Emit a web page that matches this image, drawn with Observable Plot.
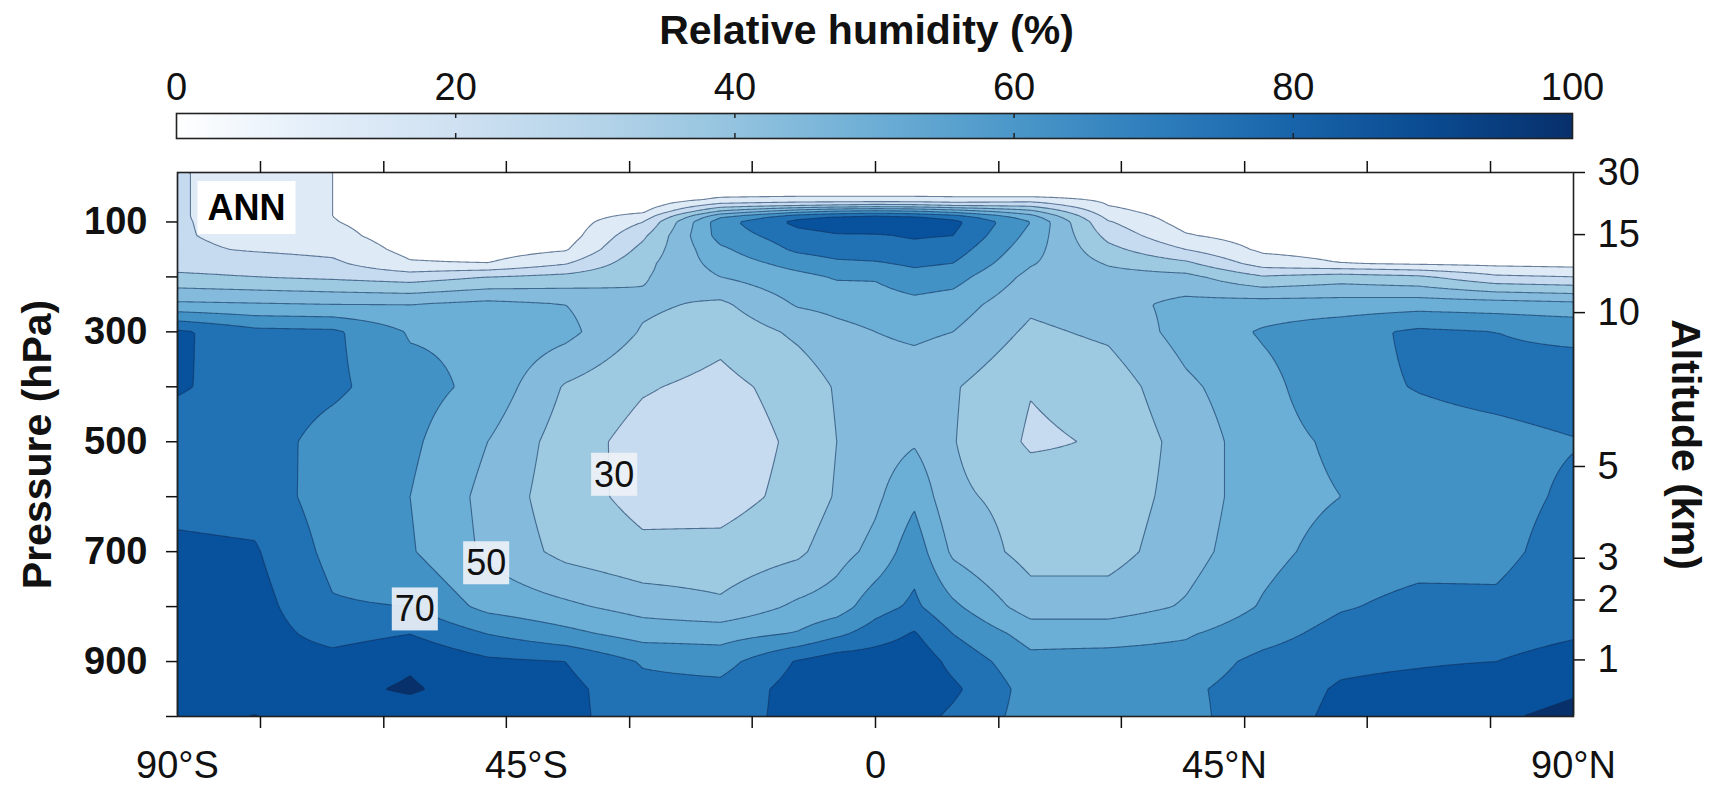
<!DOCTYPE html>
<html><head><meta charset="utf-8">
<script src="https://cdn.jsdelivr.net/npm/d3@7"></script>
<script src="https://cdn.jsdelivr.net/npm/@observablehq/plot@0.6"></script>
<style>html,body{margin:0;padding:0;background:#fff;} svg{display:block;}</style>
</head><body><div id="chart"></div>
<script>
// ---------- data ----------
const lats = [-90,-80,-70,-60,-50,-40,-30,-20,-10,-5,0,5,10,20,30,40,50,60,70,80,90];
const pLevels = [10,50,60,70,80,90,100,125,150,175,200,250,300,400,500,600,700,800,850,900,950,1000];
const rh10   = [21,15,10,5,4,4,4,3,3,3,3,3,3,3,3,2,2,2,2,2,2];
const rh50   = [21,15,10,5,4,4,4,8,8,8,8,8,8,6,5,2,2,2,2,2,2];
const rh60   = [21,15,10,5,4,4,4,12,14,14,14,14,13,16,8,2,2,2,2,2,2];
const rh70   = [21,15,10,5,4,4,5,25,30,32,34,33,30,28,10,3,2,2,2,2,2];
const rh80   = [21,15,10,5,4,4,8,40,55,60,62,60,55,42,13,4,3,2,2,2,2];
const rh90   = [21,15,10,5,4,4,14,58,76,80,82,80,75,54,17,5,3,3,2,2,2];
const rh100  = [21,16,10.5,5,4,4,20,66,83,86,88,87,83,60,21,6,4,3,2,2,2];
const rh125  = [21,17,13,5,4,5,28,64,76,79,79,81,80,57,27,11,5,4,3,2,2];
const rh150  = [22,19,17,7,5,9,33,58,72,75,76,77,75,54,33,20,8,6,5,4,3];
const rh175  = [26,25,22,11,10,19,37,54,64,68,69,72,70,51,39,32,15,10,8,7,6];
const rh200  = [32,30,28,25,30,33,39,50,57,61,61,66,64,47,44,43,31,35,32,22,20];
const rh250  = [52,51,50,50,53,50,42,38,51,53,55,57,55,42,46,53,55,55,56,55,53];
const rh300  = [82,73,72,59,58,53,39,33,42,47,50,52,50,38,42,54,61,66,72,70,68];
const rh400  = [81,76,72,64,57,39,31,27,34,41,44,44,41,30.5,34,48,57,67,70.5,73,75];
const rh500  = [75,75,66,62,50,35,26,24,32,40,45,49,40.5,28.5,31,44,56,62,66,67,69.5];
const rh600  = [77,76,65,60,47,34,27,26,33,41,48,58,42,36,34,44,56,60,65,66,72];
const rh700  = [82,81,67,61,48,37,32,33,38,46,53,66,48,36,36,46,57,64,66,67,75];
const rh800  = [84,84,71,70,57,52,46,42,52,55,66,72,62,45,45,51,61,69,73,72,78];
const rh850  = [85,85,76,80,70,63,56,56,61,68,75,81,70,56,56,59,66,74,76,76,79];
const rh900  = [86,86,84,89,82,80,69,66,81,86,86,87,77,63,64,64,73,78,79,80,84];
const rh950  = [87,86,88,91,86,83,73,73,84,87,88,88,82,66,67,68,75,81,83,86,89];
const rh1000 = [88,90.3,86,86,84,83,74,74,84,85,86,84,78,66,67,67,76,82,84,89,92];
const rhRows = [rh10,rh50,rh60,rh70,rh80,rh90,rh100,rh125,rh150,rh175,rh200,rh250,rh300,rh400,rh500,rh600,rh700,rh800,rh850,rh900,rh950,rh1000];

const bandThresholds = [10,20,30,40,50,60,70,80,90];
const bandColors = ["#ffffff","#deebf7","#c6dbef","#9ecae1","#84bbdc","#6baed6","#4292c6","#2171b5","#08519c","#08306b"];
const cbStops  = [0,10,20,30,40,50,60,70,80,90,100];
const cbColors = ["#ffffff","#e3eef9","#cfe1f2","#b5d4e9","#93c3df","#6daed5","#4b97c9","#2f7ebc","#1864aa","#0a4a90","#08306b"];
const cbTicks = [0,20,40,60,80,100];

const latTicks = [-79.3,-63.4,-47.6,-31.7,-15.9,0,15.9,31.7,47.6,63.4,79.3];
const latLabelVals = [-90,-45,0,45,90];
const latLabelText = ["90°S","45°S","0","45°N","90°N"];
const pTicks = [100,200,300,400,500,600,700,800,900,1000];
const pLabelVals = [100,300,500,700,900];
const altKm = [30,15,10,5,3,2,1];
const altP  = [10,123,265,545,712,788,897];

const lblText = ["30","50","70"];
const lblLat  = [-33.7,-50.2,-59.4];
const lblP    = [561,722,806];

// bilinear lookup in the grid
function seg(arr, v) { let i = 0; while (i < arr.length - 2 && v > arr[i + 1]) i++; return i; }
function rhAt(x, y) {
  const i = seg(lats, x), j = seg(pLevels, y);
  const tx = Math.max(0, Math.min(1, (x - lats[i]) / (lats[i + 1] - lats[i])));
  const ty = Math.max(0, Math.min(1, (y - pLevels[j]) / (pLevels[j + 1] - pLevels[j])));
  const r0 = rhRows[j], r1 = rhRows[j + 1];
  const a = r0[i] * (1 - tx) + r0[i + 1] * tx;
  const b = r1[i] * (1 - tx) + r1[i + 1] * tx;
  return a * (1 - ty) + b * ty;
}

const font = "'Liberation Sans', Arial, Helvetica, sans-serif";

// ---------- colour bar + title ----------
const cb = Plot.plot({
  width: 1711, height: 150,
  marginLeft: 176, marginRight: 139, marginTop: 113, marginBottom: 12,
  style: {fontFamily: font, fontSize: "38px", color: "#111", background: "#fff"},
  x: {domain: [0, 100]},
  y: {domain: [0, 1], axis: null},
  color: {type: "linear", domain: cbStops, range: cbColors},
  marks: [
    Plot.raster({fill: (x, y) => x, x1: 0, x2: 100, y1: 0, y2: 1, pixelSize: 1}),
    Plot.ruleX(cbTicks.slice(1, -1), {y1: 0, y2: 0.2, stroke: "#222", strokeWidth: 1.5}),
    Plot.ruleX(cbTicks.slice(1, -1), {y1: 0.8, y2: 1, stroke: "#222", strokeWidth: 1.5}),
    Plot.frame({stroke: "#222", strokeWidth: 1.6}),
    Plot.axisX(cbTicks, {anchor: "top", tickSize: 0, tickPadding: 14, label: null, fontSize: 38}),
    Plot.text(["Relative humidity (%)"], {frameAnchor: "top", lineAnchor: "top", dx: -8, dy: -99, fontWeight: "bold", fontSize: 41, fill: "#111"})
  ]
});

// ---------- main contour panel ----------
const main = Plot.plot({
  width: 1711, height: 639,
  marginLeft: 177, marginRight: 138, marginTop: 22, marginBottom: 73,
  style: {fontFamily: font, fontSize: "38px", color: "#111", background: "#fff"},
  x: {domain: [-90, 90]},
  y: {domain: [10, 1000], reverse: true},
  color: {type: "threshold", domain: bandThresholds, range: bandColors},
  marks: [
    Plot.contour({fill: rhAt, x1: -90, x2: 90, y1: 10, y2: 1000, thresholds: bandThresholds, stroke: "none"}),
    Plot.contour({value: rhAt, x1: -90, x2: 90, y1: 10, y2: 1000, thresholds: bandThresholds, fill: "none", stroke: "#0f2f5a", strokeOpacity: 0.6, strokeWidth: 1.1}),
    Plot.frame({stroke: "#222", strokeWidth: 1.6}),
    Plot.axisX(latTicks, {anchor: "bottom", tickSize: 12, strokeWidth: 1.5, tickFormat: () => "", label: null}),
    Plot.axisX(latTicks, {anchor: "top", tickSize: 12, strokeWidth: 1.5, tickFormat: () => "", label: null}),
    Plot.axisX(latLabelVals, {anchor: "bottom", tickSize: 0, tickPadding: 35, label: null,
      tickFormat: d => latLabelText[latLabelVals.indexOf(d)]}),
    Plot.axisY(pTicks, {anchor: "left", tickSize: 11, strokeWidth: 1.5, tickFormat: () => "", label: null}),
    Plot.axisY(pLabelVals, {anchor: "left", tickSize: 0, tickPadding: 30, fontWeight: "bold", label: null}),
    Plot.axisY(altP, {anchor: "right", tickSize: 11, tickPadding: 13, strokeWidth: 1.5, label: null,
      tickFormat: d => String(altKm[altP.indexOf(d)])}),
    Plot.text(["Pressure (hPa)"], {frameAnchor: "left", textAnchor: "middle", lineAnchor: "middle", dx: -140, rotate: -90, fontWeight: "bold", fontSize: 41, fill: "#111"}),
    Plot.text(["Altitude (km)"], {frameAnchor: "right", textAnchor: "middle", lineAnchor: "middle", dx: 112, rotate: 90, fontWeight: "bold", fontSize: 41, fill: "#111"}),
    Plot.text(lblText, {x: (d, i) => lblLat[i], y: (d, i) => lblP[i], text: d => d, fontSize: 36, fill: "#101010"}),
    Plot.text(["ANN"], {frameAnchor: "top-left", textAnchor: "start", lineAnchor: "top", dx: 30, dy: 22, fontWeight: "bold", fontSize: 36, fill: "#010101"})
  ]
});

document.getElementById("chart").append(cb, main);

// boxes behind the in-panel text labels
function boxBehind(fillAttr, fill, opacity, padX, padY) {
  const texts = [];
  main.querySelectorAll("g").forEach(g => {
    if ((g.getAttribute("fill") || "").toLowerCase() === fillAttr) g.querySelectorAll("text").forEach(t => texts.push(t));
  });
  main.querySelectorAll("text").forEach(t => {
    if ((t.getAttribute("fill") || "").toLowerCase() === fillAttr && !texts.includes(t)) texts.push(t);
  });
  texts.forEach(t => {
    const b = t.getBBox();
    const r = document.createElementNS("http://www.w3.org/2000/svg", "rect");
    r.setAttribute("x", b.x - padX); r.setAttribute("y", b.y - padY);
    r.setAttribute("width", b.width + 2 * padX); r.setAttribute("height", b.height + 2 * padY);
    r.setAttribute("fill", fill); r.setAttribute("fill-opacity", opacity);
    if (t.getAttribute("transform")) r.setAttribute("transform", t.getAttribute("transform"));
    t.parentNode.insertBefore(r, t);
  });
}
boxBehind("#101010", "#eef2f7", 0.9, 3, 1);
boxBehind("#010101", "#ffffff", 1, 10, 6);
</script>
</body></html>
